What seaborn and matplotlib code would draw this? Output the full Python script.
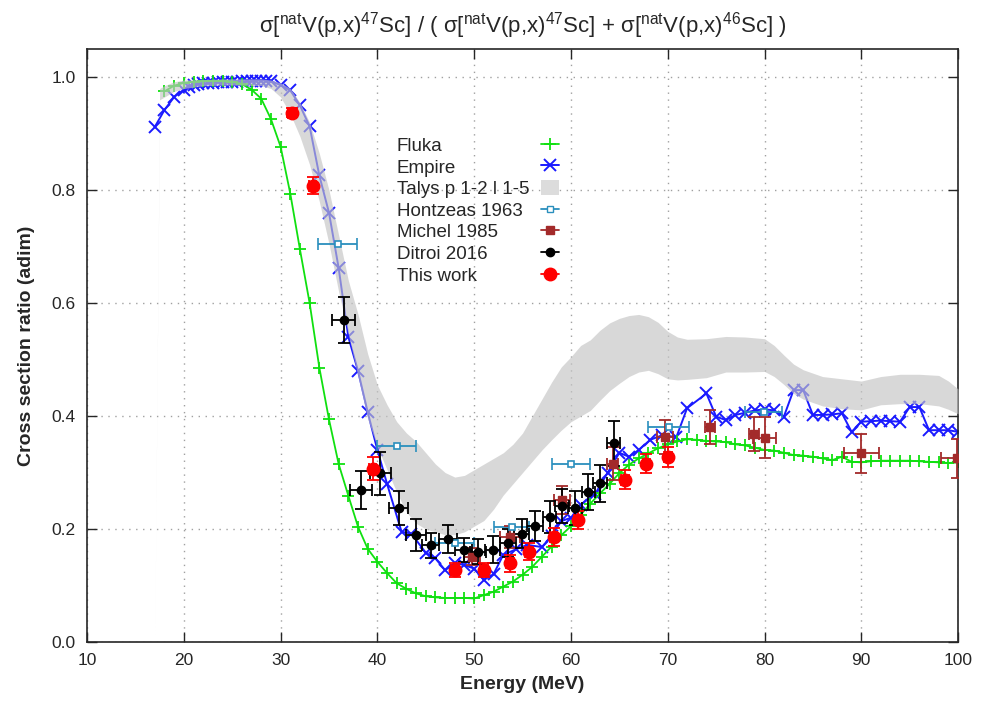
import seaborn as sns
import matplotlib.pyplot as plt
from matplotlib.lines import Line2D
from matplotlib.patches import Patch

# Fluka (1 MeV steps)
fluka_e = list(range(18, 101))
fluka_r = [0.975, 0.985, 0.990, 0.992, 0.993, 0.993, 0.993, 0.992, 0.988, 0.978,
           0.962, 0.926, 0.877, 0.794, 0.695, 0.600, 0.486, 0.394, 0.315, 0.259,
           0.204, 0.165, 0.142, 0.122, 0.104, 0.094, 0.086, 0.081, 0.079, 0.078,
           0.078, 0.078, 0.077, 0.083, 0.089, 0.098, 0.107, 0.119, 0.133, 0.151,
           0.169, 0.189, 0.205, 0.225, 0.245, 0.263, 0.280, 0.299, 0.314, 0.325,
           0.334, 0.343, 0.350, 0.355, 0.359, 0.358, 0.356, 0.355, 0.354, 0.350,
           0.348, 0.344, 0.340, 0.339, 0.335, 0.331, 0.330, 0.328, 0.325, 0.322,
           0.328, 0.319, 0.318, 0.320, 0.321, 0.321, 0.321, 0.321, 0.320, 0.319,
           0.318, 0.317, 0.318]

# Empire
empire_e = [17, 18, 19, 20, 20.5, 21, 21.5, 22, 22.5, 23, 23.5, 24, 24.5, 25, 25.5,
            26, 26.5, 27, 27.5, 28, 28.5, 29, 30, 31, 32, 33, 34, 35, 36, 37, 38,
            39, 40, 41, 42.5, 43.5, 45, 46, 47, 48, 49, 50, 51, 52, 53, 54.3, 55.5,
            57, 58, 59, 60, 61, 62.5, 63.8, 65, 66, 67, 68.2, 69.4, 70.9, 72, 74,
            75, 76, 77, 78, 79, 80, 81, 82, 83, 84, 85, 86, 87, 88, 89, 90, 91, 92,
            93, 94, 95, 96, 97, 98, 99, 100]
empire_r = [0.912, 0.942, 0.965, 0.978, 0.983, 0.986, 0.988, 0.989, 0.990, 0.990,
            0.991, 0.991, 0.991, 0.992, 0.992, 0.993, 0.993, 0.993, 0.994, 0.994,
            0.994, 0.993, 0.986, 0.977, 0.950, 0.913, 0.826, 0.760, 0.662, 0.540,
            0.480, 0.407, 0.340, 0.280, 0.195, 0.192, 0.158, 0.148, 0.127, 0.140,
            0.136, 0.130, 0.110, 0.120, 0.154, 0.164, 0.172, 0.168, 0.188, 0.214,
            0.220, 0.243, 0.262, 0.300, 0.335, 0.328, 0.340, 0.358, 0.366, 0.363,
            0.414, 0.440, 0.399, 0.393, 0.402, 0.406, 0.410, 0.412, 0.410, 0.399,
            0.446, 0.446, 0.402, 0.402, 0.403, 0.405, 0.372, 0.390, 0.391, 0.392,
            0.391, 0.390, 0.416, 0.416, 0.375, 0.375, 0.375, 0.372]

# Talys band (p 1-2, l 1-5)
talys_e = [17.0, 17.5, 18, 19, 20, 22, 24, 26, 28, 29, 30, 31, 32, 33, 34, 35, 36,
           37, 38, 39, 40, 41, 42, 43, 44, 45, 46, 47, 48, 49, 50, 51, 52, 53, 54,
           55, 56, 57, 58, 59, 60, 61, 62, 63, 64, 65, 66, 67, 68, 69, 70, 71, 72,
           74, 76, 78, 80, 81, 82, 83, 84, 86, 88, 90, 92, 94, 96, 98, 99, 100]
talys_lo = [0.000, 0.960, 0.965, 0.975, 0.980, 0.985, 0.986, 0.986, 0.985, 0.980,
            0.965, 0.935, 0.895, 0.845, 0.780, 0.705, 0.620, 0.545, 0.470, 0.395,
            0.345, 0.305, 0.265, 0.230, 0.210, 0.200, 0.195, 0.190, 0.190, 0.195,
            0.205, 0.215, 0.235, 0.260, 0.280, 0.300, 0.320, 0.340, 0.358, 0.375,
            0.390, 0.400, 0.410, 0.428, 0.445, 0.458, 0.470, 0.478, 0.481, 0.475,
            0.466, 0.464, 0.465, 0.468, 0.478, 0.478, 0.479, 0.470, 0.456, 0.440,
            0.430, 0.418, 0.413, 0.411, 0.420, 0.422, 0.422, 0.418, 0.412, 0.404]
talys_hi = [0.000, 0.980, 0.985, 0.992, 0.995, 0.996, 0.997, 0.997, 0.997, 0.995,
            0.990, 0.980, 0.955, 0.920, 0.865, 0.800, 0.720, 0.640, 0.580, 0.510,
            0.455, 0.420, 0.390, 0.370, 0.355, 0.335, 0.315, 0.300, 0.292, 0.295,
            0.305, 0.315, 0.325, 0.335, 0.350, 0.370, 0.400, 0.430, 0.460, 0.487,
            0.505, 0.525, 0.535, 0.552, 0.565, 0.573, 0.578, 0.580, 0.576, 0.566,
            0.550, 0.540, 0.536, 0.537, 0.541, 0.540, 0.537, 0.525, 0.508, 0.492,
            0.482, 0.470, 0.466, 0.462, 0.470, 0.474, 0.474, 0.472, 0.462, 0.448]

# Hontzeas 1963
hon_e = [35.9, 42.0, 48.0, 53.9, 60.0, 70.1, 79.9]
hon_r = [0.704, 0.347, 0.175, 0.204, 0.316, 0.380, 0.408]
hon_xerr = [2.0, 2.0, 2.0, 1.8, 2.0, 2.1, 1.9]

# Michel 1985
mic_e = [49.8, 53.7, 59.1, 64.3, 69.7, 74.4, 78.9, 80.0, 90.0, 99.9]
mic_r = [0.151, 0.186, 0.251, 0.316, 0.363, 0.381, 0.369, 0.362, 0.334, 0.325]
mic_xerr = [0.8, 1.0, 0.8, 0.6, 0.8, 0.5, 0.5, 1.2, 1.8, 1.7]
mic_yerr = [0.015, 0.020, 0.025, 0.030, 0.030, 0.030, 0.030, 0.036, 0.034, 0.035]

# Ditroi 2016
dit_e = [36.5, 38.3, 40.3, 42.2, 44.0, 45.5, 47.3, 48.9, 50.4, 51.9, 53.5, 54.9,
         56.3, 57.8, 59.1, 60.4, 61.8, 63.0, 64.4]
dit_r = [0.570, 0.269, 0.299, 0.237, 0.189, 0.171, 0.182, 0.163, 0.160, 0.163,
         0.175, 0.192, 0.205, 0.221, 0.240, 0.237, 0.266, 0.281, 0.352]
dit_xerr = [1.2, 1.1, 1.1, 1.0, 1.0, 0.9, 0.9, 0.9, 0.8, 0.8, 0.8, 0.8, 0.8, 0.7,
            0.7, 0.7, 0.7, 0.7, 0.7]
dit_yerr = [0.040, 0.034, 0.038, 0.030, 0.028, 0.022, 0.025, 0.022, 0.022, 0.024,
            0.025, 0.026, 0.027, 0.028, 0.030, 0.030, 0.032, 0.033, 0.040]

# This work
tw_e = [31.2, 33.3, 39.5, 48.0, 51.0, 53.7, 55.7, 58.2, 60.7, 65.6, 67.8, 70.0]
tw_r = [0.937, 0.808, 0.307, 0.127, 0.127, 0.139, 0.160, 0.186, 0.216, 0.287,
        0.316, 0.328]
tw_xerr = [0.4] * len(tw_e)
tw_yerr = [0.008, 0.015, 0.020, 0.012, 0.012, 0.015, 0.015, 0.016, 0.016, 0.017,
           0.017, 0.018]

GREEN = "#10e010"
BLUE = "#1a1aff"
TEAL = "#2a8fbd"
BROWN = "#a32a2a"
RED = "#ff0000"
GRAY = "#c4c4c4"

sns.set_style("ticks")
plt.rcParams["font.family"] = ["Liberation Sans", "DejaVu Sans"]
plt.rcParams["mathtext.default"] = "regular"

fig = plt.figure(figsize=(9.88, 7.10), dpi=100)
ax = fig.add_axes([0.0881, 0.0958, 0.8816, 0.8352])

# model curves
sns.lineplot(x=empire_e, y=empire_r, ax=ax, color=BLUE, marker="x", markersize=8,
             markeredgecolor=BLUE, markeredgewidth=1.4, linewidth=1.4, zorder=2)
sns.lineplot(x=fluka_e, y=fluka_r, ax=ax, color=GREEN, marker="+", markersize=8,
             markeredgecolor=GREEN, markeredgewidth=1.3, linewidth=1.3, zorder=2)
ax.fill_between(talys_e, talys_lo, talys_hi, color=GRAY, alpha=0.65, lw=0, zorder=3)

# experimental data
eb = dict(linestyle="none", capsize=4, elinewidth=1.3, capthick=1.3, zorder=5)
ax.errorbar(hon_e, hon_r, xerr=hon_xerr, marker="s", markersize=5, mfc="white",
            mec=TEAL, color=TEAL, mew=1.2, **eb)
ax.errorbar(mic_e, mic_r, xerr=mic_xerr, yerr=mic_yerr, marker="s", markersize=6,
            color=BROWN, **eb)
ax.errorbar(dit_e, dit_r, xerr=dit_xerr, yerr=dit_yerr, marker="o", markersize=6,
            color="black", **eb)
ax.errorbar(tw_e, tw_r, xerr=tw_xerr, yerr=tw_yerr, marker="o", markersize=9,
            color=RED, **eb)

ax.set_xlim(10, 100)
ax.set_ylim(0, 1.05)
ax.set_xticks(range(10, 101, 10))
ax.set_yticks([0, 0.2, 0.4, 0.6, 0.8, 1.0])
ax.set_yticklabels(["0.0", "0.2", "0.4", "0.6", "0.8", "1.0"])
ax.tick_params(direction="in", top=True, right=True, length=7, width=1,
               labelsize=12.5, pad=8)
ax.grid(True, linestyle=(0, (1, 4)), color="#a0a0a0", linewidth=1)
for s in ax.spines.values():
    s.set_linewidth(1.2)

ax.set_xlabel("Energy (MeV)", fontsize=14, fontweight="bold", labelpad=6)
ax.set_ylabel("Cross section ratio (adim)", fontsize=14, fontweight="bold", labelpad=12)
ax.set_title(r"σ[$^{nat}$V(p,x)$^{47}$Sc] / ( σ[$^{nat}$V(p,x)$^{47}$Sc] + "
             r"σ[$^{nat}$V(p,x)$^{46}$Sc] )", fontsize=16, pad=12)

handles = [
    Line2D([], [], color=GREEN, marker="+", markersize=9, mew=1.3, lw=1.3),
    Line2D([], [], color=BLUE, marker="x", markersize=8, mew=1.4, lw=1.4),
    Patch(facecolor="#dcdcdc", edgecolor="none"),
    Line2D([], [], color=TEAL, marker="s", markersize=5, mfc="white", lw=1.3),
    Line2D([], [], color=BROWN, marker="s", markersize=6, lw=1.3),
    Line2D([], [], color="black", marker="o", markersize=6, lw=1.3),
    Line2D([], [], color=RED, marker="o", markersize=9, lw=1.3),
]
labels = ["Fluka", "Empire", "Talys p 1-2 l 1-5", "Hontzeas 1963", "Michel 1985",
          "Ditroi 2016", "This work"]
leg = ax.legend(handles, labels, loc="upper left", bbox_to_anchor=(0.345, 0.868),
                frameon=False, markerfirst=False, fontsize=13.5, handlelength=1.0,
                handleheight=0.9, handletextpad=0.6, labelspacing=0.18, borderpad=0)

# gnuplot-style key: labels left aligned, samples in a right column
fig.canvas.draw()
widths = [t.get_window_extent().width for t in leg.get_texts()]
wmax = max(widths)
for t, w in zip(leg.get_texts(), widths):
    t.set_x(-(wmax - w))

fig.savefig("out.png", dpi=100)
